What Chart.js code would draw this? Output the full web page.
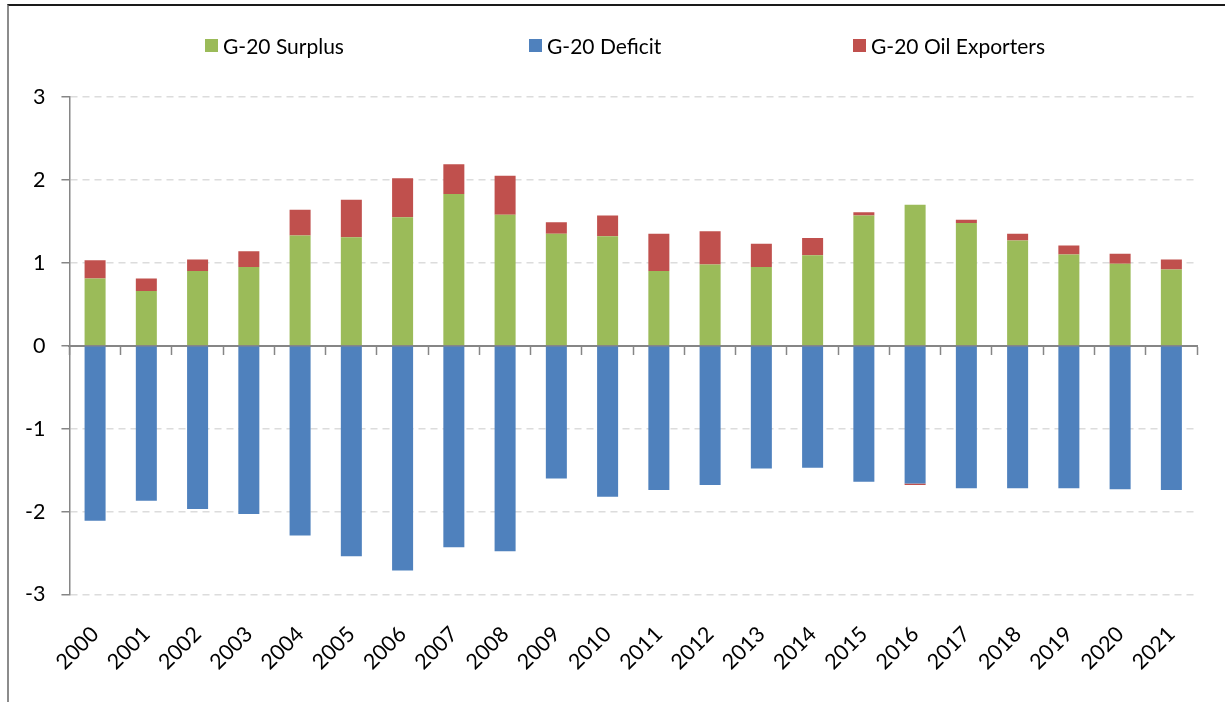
<!DOCTYPE html>
<html>
<head>
<meta charset="utf-8">
<script src="https://cdn.jsdelivr.net/npm/chart.js@4"></script>
<style>
    html, body { margin: 0; padding: 0; background: #fff; }
    #wrap { position: relative; width: 1225px; height: 702px; overflow: hidden; }
    #frame { position: absolute; left: 7px; top: 4px; right: -2px; bottom: -2px;
             border-top: 2px solid #1a1a1a; border-left: 2px solid #8c8c8c; }
    #legend { position: absolute; top: 33px; left: 205px; display: flex;
              font-family: Lato, sans-serif; font-size: 21px; color: #000; }
    .item { width: 324px; display: flex; align-items: center; }
    .swatch { width: 13px; height: 13px; margin-right: 5px; }
    canvas { position: absolute; left: 0; top: 0; }
</style>
</head>
<body>
<div id="wrap">
    <div id="frame"></div>
    <canvas id="surplusChart" width="1225" height="702"></canvas>
    <div id="legend"></div>
</div>
<script>
const years = ['2000', '2001', '2002', '2003', '2004', '2005', '2006', '2007', '2008', '2009', '2010',
               '2011', '2012', '2013', '2014', '2015', '2016', '2017', '2018', '2019', '2020', '2021'];

const surplus = [0.81, 0.66, 0.90, 0.95, 1.33, 1.31, 1.55, 1.83, 1.58, 1.35, 1.32,
                 0.90, 0.98, 0.95, 1.09, 1.57, 1.70, 1.48, 1.27, 1.10, 0.99, 0.92];

const deficit = [-2.11, -1.87, -1.97, -2.03, -2.29, -2.54, -2.71, -2.43, -2.48, -1.60, -1.82,
                 -1.74, -1.68, -1.48, -1.47, -1.64, -1.66, -1.72, -1.72, -1.72, -1.73, -1.74];

const oilExporters = [0.22, 0.15, 0.14, 0.19, 0.31, 0.45, 0.47, 0.36, 0.47, 0.14, 0.25,
                      0.45, 0.40, 0.28, 0.21, 0.04, -0.02, 0.04, 0.08, 0.11, 0.12, 0.12];

const yTicks = [-3, -2, -1, 0, 1, 2, 3];

const FONT = 'Lato, sans-serif';
const axisGrey = '#868686';

const ctx = document.getElementById('surplusChart').getContext('2d');

const chart = new Chart(ctx, {
    type: 'bar',
    data: {
        labels: years,
        datasets: [
            { label: 'G-20 Surplus', data: surplus, backgroundColor: '#9BBB59' },
            { label: 'G-20 Deficit', data: deficit, backgroundColor: '#4F81BD' },
            { label: 'G-20 Oil Exporters', data: oilExporters, backgroundColor: '#C0504D' },
        ]
    },
    options: {
        responsive: false,
        animation: false,
        datasets: {
            bar: { barPercentage: 0.41, categoryPercentage: 1.0 }
        },
        layout: {
            padding: { left: 9, right: 28, top: 97, bottom: 25 }
        },
        plugins: {
            legend: { display: false },
            tooltip: { enabled: false },
        },
        scales: {
            x: {
                stacked: true,
                // invisible tick marks only to push the rotated labels down
                grid: { drawOnChartArea: false, tickColor: 'rgba(0,0,0,0)', tickLength: 25 },
                border: { display: false },
                ticks: {
                    color: '#000',
                    font: { family: FONT, size: 21.5 },
                    minRotation: 45,
                    maxRotation: 45,
                    autoSkip: false,
                    padding: 2,
                }
            },
            // zero line with its category tick marks
            x2: {
                type: 'category',
                position: { y: 0 },
                offset: true,
                grid: {
                    offset: true,
                    drawOnChartArea: false,
                    tickColor: axisGrey,
                    tickLength: 8,
                    tickWidth: 1.5,
                },
                border: { display: true, color: axisGrey, width: 2 },
                ticks: { display: false },
            },
            y: {
                stacked: true,
                min: -3,
                max: 3,
                afterBuildTicks: (scale) => {
                    scale.ticks = yTicks.map(v => ({ value: v }));
                },
                grid: {
                    color: '#dcdcdc',
                    lineWidth: 1.5,
                    tickColor: axisGrey,
                    tickLength: 8,
                    tickWidth: 1.5,
                    tickBorderDash: [],
                },
                border: { display: true, color: axisGrey, width: 1.5, dash: [7, 5] },
                ticks: {
                    color: '#000',
                    font: { family: FONT, size: 21.5 },
                    padding: 16,
                }
            }
        }
    }
});

// legend built from the datasets
const legendEl = document.getElementById('legend');
chart.data.datasets.forEach(ds => {
    const item = document.createElement('div');
    item.className = 'item';
    const sw = document.createElement('span');
    sw.className = 'swatch';
    sw.style.background = ds.backgroundColor;
    const txt = document.createElement('span');
    txt.textContent = ds.label;
    item.appendChild(sw);
    item.appendChild(txt);
    legendEl.appendChild(item);
});
</script>
</body>
</html>
